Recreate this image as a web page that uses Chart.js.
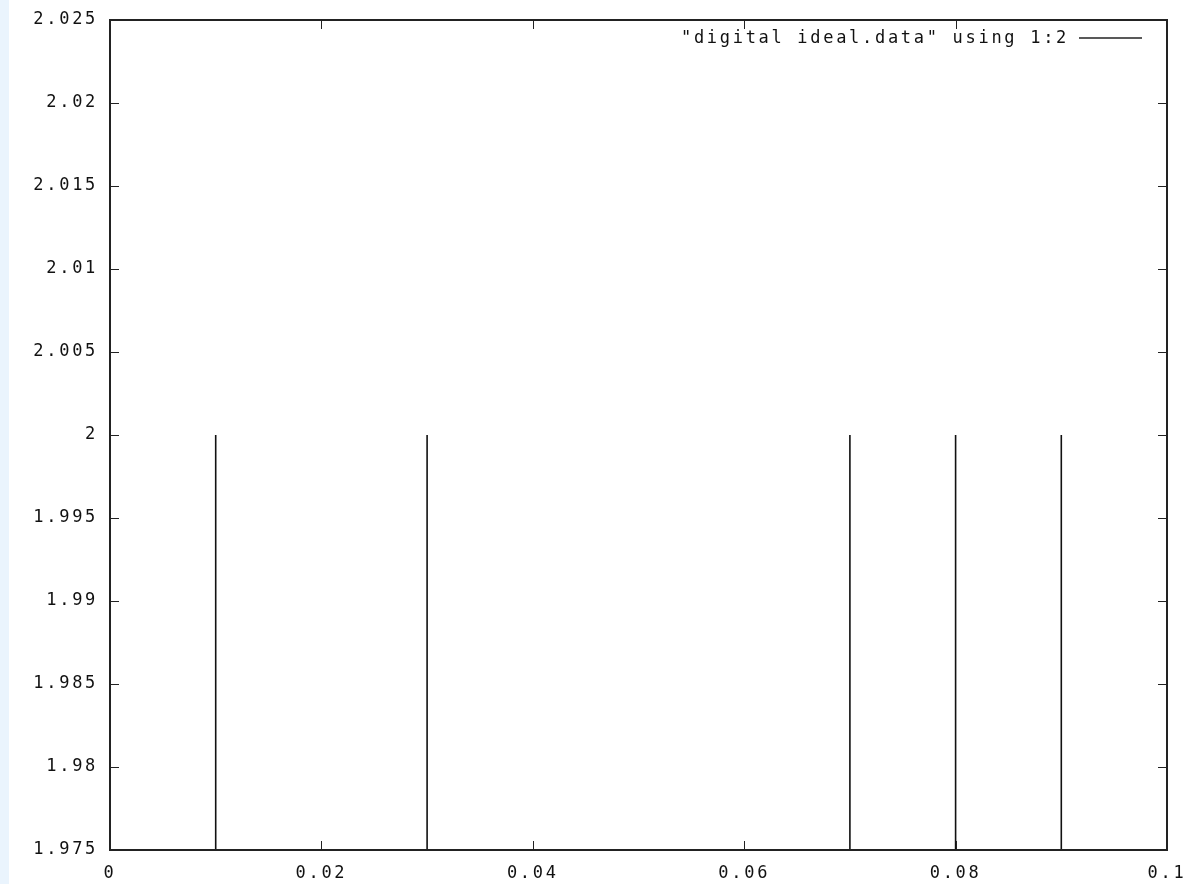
<!DOCTYPE html>
<html>
<head>
<meta charset="utf-8">
<script src="https://cdn.jsdelivr.net/npm/chart.js@4/dist/chart.umd.min.js"></script>
<style>
  html, body { margin: 0; padding: 0; background: #eaf4fd; }
  #wrap { position: absolute; left: 9px; top: 0; width: 1179px; height: 884px; background: #fff; }
</style>
</head>
<body>
<div id="wrap"><canvas id="grafico" width="1179" height="884"></canvas></div>
<script>
// datos: flancos de la señal digital (x donde sube a nivel alto)
const flancosX = [0.01, 0.03, 0.07, 0.08, 0.09];
const nivelAlto = 2;
const nivelBajo = 0;
const etiquetaSerie = '"digital ideal.data" using 1:2';

const ticksX = [0, 0.02, 0.04, 0.06, 0.08, 0.1];
const ticksY = [1.975, 1.98, 1.985, 1.99, 1.995, 2, 2.005, 2.01, 2.015, 2.02, 2.025];

// cada flanco es un segmento vertical, separados por null
const puntos = [];
flancosX.forEach(x => {
  puntos.push({ x: x, y: nivelBajo });
  puntos.push({ x: x, y: nivelAlto });
  puntos.push({ x: x, y: null });
});

const espaciado = '2.7px';
const fuente = { family: "'DejaVu Sans Mono', monospace", size: 17 };
const formato = v => String(Number(v.toFixed(4)));

// marco, marcas hacia adentro y leyenda estilo gnuplot
const marcoGnuplot = {
  id: 'marcoGnuplot',
  beforeInit(chart) {
    chart.ctx.letterSpacing = espaciado;
  },
  beforeDraw(chart) {
    chart.ctx.letterSpacing = espaciado;
  },
  afterDraw(chart) {
    const ctx = chart.ctx;
    const a = chart.chartArea;
    const sx = chart.scales.x, sy = chart.scales.y;
    ctx.save();
    ctx.strokeStyle = '#222';
    ctx.lineWidth = 1;
    ctx.beginPath();
    ticksX.forEach(v => {
      const px = Math.round(sx.getPixelForValue(v)) + 0.5;
      ctx.moveTo(px, a.bottom); ctx.lineTo(px, a.bottom - 9);
      ctx.moveTo(px, a.top); ctx.lineTo(px, a.top + 9);
    });
    ticksY.forEach(v => {
      const py = Math.round(sy.getPixelForValue(v)) + 0.5;
      ctx.moveTo(a.left, py); ctx.lineTo(a.left + 9, py);
      ctx.moveTo(a.right, py); ctx.lineTo(a.right - 9, py);
    });
    ctx.stroke();

    ctx.lineWidth = 2;
    ctx.strokeRect(a.left, a.top, a.right - a.left, a.bottom - a.top);

    // leyenda
    const ly = a.top + 18;
    ctx.font = "17px 'DejaVu Sans Mono', monospace";
    ctx.letterSpacing = espaciado;
    ctx.fillStyle = '#111';
    ctx.textAlign = 'right';
    ctx.textBaseline = 'middle';
    ctx.fillText(etiquetaSerie, a.right - 98, ly + 1);
    ctx.lineWidth = 1.5;
    ctx.beginPath();
    ctx.moveTo(a.right - 88, ly);
    ctx.lineTo(a.right - 25, ly);
    ctx.stroke();
    ctx.restore();
  }
};

new Chart(document.getElementById('grafico').getContext('2d'), {
  type: 'line',
  data: {
    datasets: [{
      label: etiquetaSerie,
      data: puntos,
      borderColor: '#111',
      borderWidth: 1.6,
      pointRadius: 0,
      fill: false,
      spanGaps: false,
      tension: 0
    }]
  },
  options: {
    responsive: false,
    animation: false,
    layout: { padding: { left: 0, right: 21, top: 20, bottom: 0 } },
    plugins: {
      legend: { display: false },
      tooltip: { enabled: false }
    },
    scales: {
      x: {
        type: 'linear',
        min: 0,
        max: 0.1,
        afterBuildTicks: s => { s.ticks = ticksX.map(v => ({ value: v })); },
        afterFit: s => { s.height = 34; s.paddingLeft = 0; s.paddingRight = 0; },
        grid: { display: false, drawTicks: false },
        border: { display: false },
        ticks: {
          color: '#111',
          font: fuente,
          padding: 13,
          maxRotation: 0,
          autoSkip: false,
          callback: v => formato(v)
        }
      },
      y: {
        type: 'linear',
        min: 1.975,
        max: 2.025,
        afterBuildTicks: s => { s.ticks = ticksY.map(v => ({ value: v })); },
        afterFit: s => { s.width = 101; s.paddingTop = 0; s.paddingBottom = 0; },
        grid: { display: false, drawTicks: false },
        border: { display: false },
        ticks: {
          color: '#111',
          font: fuente,
          padding: 12,
          autoSkip: false,
          callback: v => formato(v)
        }
      }
    }
  },
  plugins: [marcoGnuplot]
});
</script>
</body>
</html>
